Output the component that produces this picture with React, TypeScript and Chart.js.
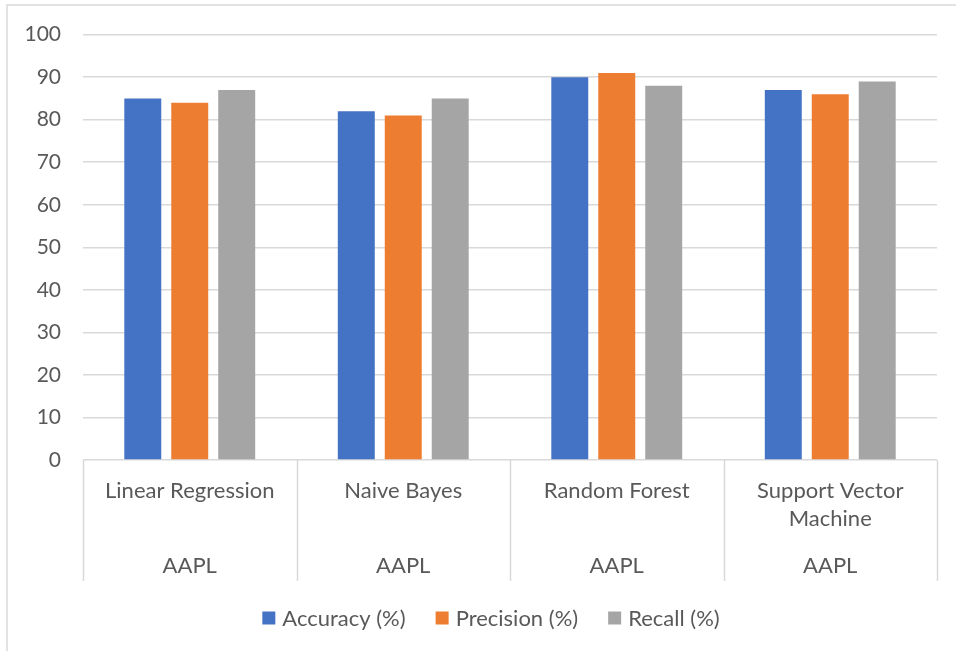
import React, { useEffect, useRef } from "react";
import { Chart, registerables } from "chart.js";

Chart.register(...registerables);

// Model names (split into display lines) and the shared ticker group
const categories: string[][] = [
  ["Linear Regression"],
  ["Naive Bayes"],
  ["Random Forest"],
  ["Support Vector", "Machine"],
];
const groupLabel = "AAPL";

const seriesNames = ["Accuracy (%)", "Precision (%)", "Recall (%)"];
const accuracy = [85, 82, 90, 87];
const precision = [84, 81, 91, 86];
const recall = [87, 85, 88, 89];

const yMin = 0;
const yMax = 100;
const yStep = 10;

const colors = ["#4472C4", "#ED7D31", "#A5A5A5"];
const textColor = "#595959";
const lineColor = "#d9d9d9";
const fontFamily = "Lato, 'Open Sans', sans-serif";

const multiLevelAxis = {
  id: "multiLevelAxis",
  afterDraw(chart: any) {
    const { ctx, chartArea, scales } = chart;
    const x = scales.x;
    const n = categories.length;
    const step = (chartArea.right - chartArea.left) / n;
    const axisBottom = chartArea.bottom + 121;

    ctx.save();
    // outer frame (top and left edges)
    ctx.strokeStyle = lineColor;
    ctx.lineWidth = 1.5;
    ctx.beginPath();
    ctx.moveTo(7, chart.height);
    ctx.lineTo(7, 5);
    ctx.lineTo(chart.width, 5);
    ctx.stroke();

    // category separators
    ctx.beginPath();
    for (let i = 0; i <= n; i++) {
      const px = Math.round(chartArea.left + i * step) + 0.5;
      ctx.moveTo(px, chartArea.bottom);
      ctx.lineTo(px, axisBottom);
    }
    ctx.stroke();

    // category and group labels
    ctx.fillStyle = textColor;
    ctx.font = `22px ${fontFamily}`;
    ctx.textAlign = "center";
    ctx.textBaseline = "middle";
    categories.forEach((lines, i) => {
      const cx = x.getPixelForValue(i);
      lines.forEach((line, j) => {
        ctx.fillText(line, cx, chartArea.bottom + 31 + j * 28);
      });
      ctx.fillText(groupLabel, cx, chartArea.bottom + 106);
    });

    // legend
    const box = 13;
    const gapBoxText = 7;
    const gapItems = 30;
    const widths = seriesNames.map((s) => ctx.measureText(s).width);
    const total =
      widths.reduce((a, b) => a + b, 0) +
      seriesNames.length * (box + gapBoxText) +
      (seriesNames.length - 1) * gapItems;
    let lx = 491 - total / 2;
    const ly = 618;
    ctx.textAlign = "left";
    seriesNames.forEach((name, i) => {
      ctx.fillStyle = colors[i];
      ctx.fillRect(lx, ly - box / 2, box, box);
      ctx.fillStyle = textColor;
      ctx.fillText(name, lx + box + gapBoxText, ly + 1);
      lx += box + gapBoxText + widths[i] + gapItems;
    });
    ctx.restore();
  },
};

export default function App() {
  const canvasRef = useRef<HTMLCanvasElement | null>(null);

  useEffect(() => {
    if (!canvasRef.current) return;
    const chart = new Chart(canvasRef.current, {
      type: "bar",
      data: {
        labels: categories.map((c) => c.join(" ")),
        datasets: [accuracy, precision, recall].map((values, i) => ({
          label: seriesNames[i],
          data: values,
          backgroundColor: colors[i],
          borderWidth: 0,
          categoryPercentage: 0.66,
          barPercentage: 0.787,
        })),
      },
      options: {
        animation: false,
        responsive: true,
        maintainAspectRatio: false,
        layout: { padding: { left: 0, top: 34, right: 19, bottom: 191 } },
        plugins: {
          legend: { display: false },
          tooltip: { enabled: false },
        },
        scales: {
          x: { display: false },
          y: {
            min: yMin,
            max: yMax,
            ticks: {
              stepSize: yStep,
              color: textColor,
              font: { family: fontFamily, size: 21 },
              padding: 22,
            },
            grid: { color: lineColor, lineWidth: 1.5, drawTicks: false },
            border: { display: false },
            afterFit(scale: any) {
              scale.width = 83;
            },
          },
        },
      },
      plugins: [multiLevelAxis],
    });
    return () => chart.destroy();
  }, []);

  return (
    <div style={{ position: "fixed", left: 0, top: 0, width: 956, height: 651, background: "#fff" }}>
      <canvas ref={canvasRef} />
    </div>
  );
}
